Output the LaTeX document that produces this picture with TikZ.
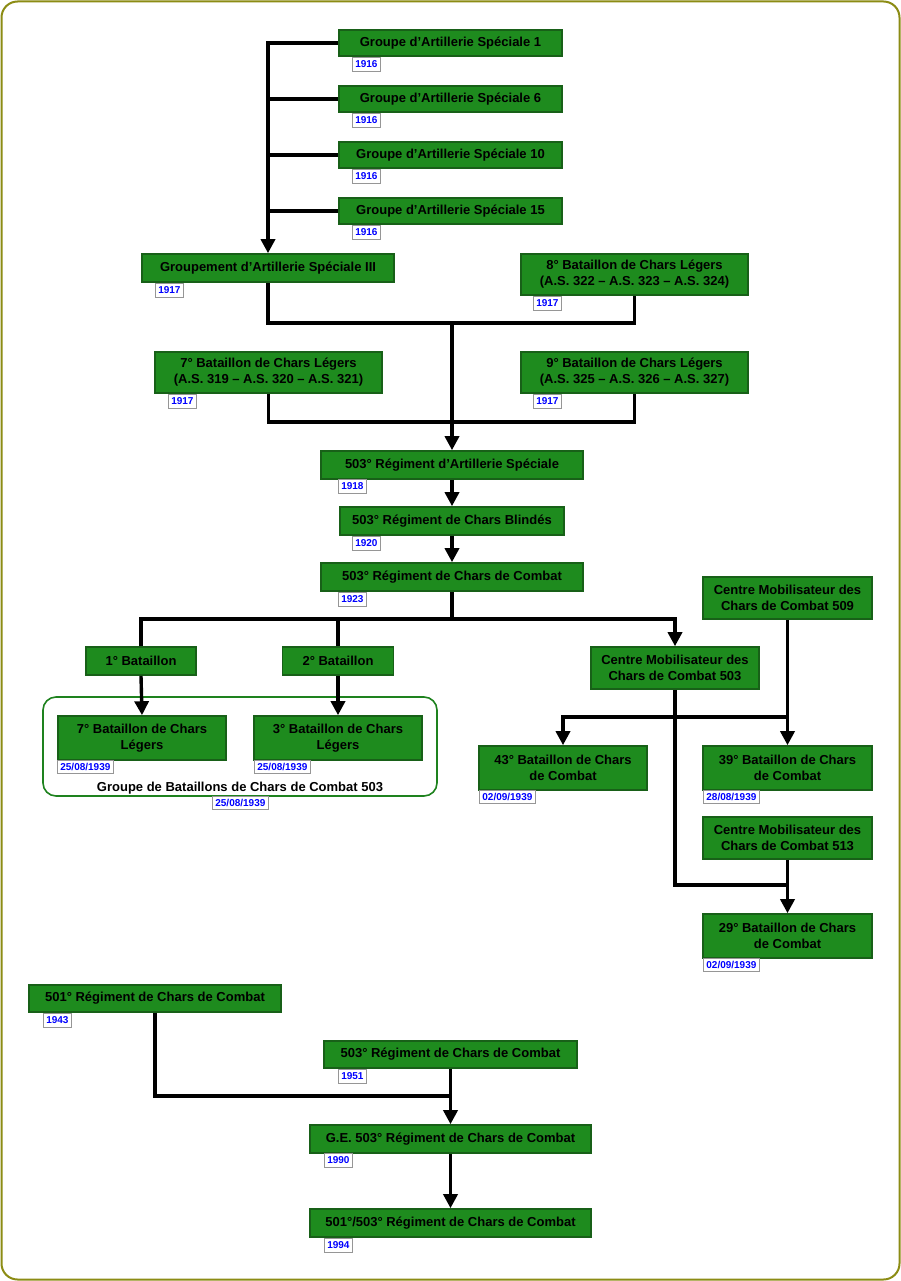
\documentclass[tikz,border=0pt]{standalone}
\usepackage{fontspec}
\setmainfont{Liberation Sans}
\usetikzlibrary{arrows.meta}
\definecolor{boxfill}{RGB}{30,139,30}
\definecolor{boxdraw}{RGB}{24,96,24}
\definecolor{dategray}{RGB}{150,150,150}
\definecolor{dateblue}{RGB}{0,0,255}
\definecolor{olive}{RGB}{140,140,20}
\definecolor{grpgreen}{RGB}{30,130,30}
\tikzset{
  box/.style={draw=boxdraw, fill=boxfill, line width=1.6pt, align=center, inner sep=0pt,
    font=\fontsize{13}{16}\selectfont\bfseries},
  sz/.style 2 args={minimum width=#1, minimum height=#2},
  datebox/.style={draw=dategray, fill=white, line width=0.8pt, inner sep=0pt, anchor=north west,
    text=dateblue, font=\fontsize{10}{12}\selectfont\bfseries, minimum height=14},
  dshort/.style={datebox, minimum width=28},
  dlong/.style={datebox, minimum width=56, minimum height=13},
  conn/.style={draw=black, line width=3.4pt},
  arr/.style={conn, -{Triangle[width=14pt,length=14pt]}},
  grpframe/.style={draw=grpgreen, line width=1.6pt, rounded corners=13pt, inner sep=0pt},
  grplabel/.style={font=\fontsize{13}{16}\selectfont\bfseries, inner sep=0pt},
}
\begin{document}
\begin{tikzpicture}[x=1pt,y=-1pt]
\useasboundingbox (0,0) rectangle (901,1281);
\draw[draw=olive, line width=2pt, rounded corners=16pt] (1.5,1.5) rectangle (899.5,1279.5);

% group container
\node[grpframe, sz={394}{99}] (gbcc) at (240,746.5) {};
\node[grplabel] (gbccl) at (240,788) {Groupe de Bataillons de Chars de Combat 503};
\node[dlong] (gbccd) at (212,796) {25/08/1939};

% nodes
\node[box, sz={223}{26}] (g1) at (450.5,43) {Groupe d’Artillerie Spéciale 1};
\node[dshort] (g1d) at (352,57) {1916};
\node[box, sz={223}{26}] (g6) at (450.5,99) {Groupe d’Artillerie Spéciale 6};
\node[dshort] (g6d) at (352,113) {1916};
\node[box, sz={223}{26}] (g10) at (450.5,155) {Groupe d’Artillerie Spéciale 10};
\node[dshort] (g10d) at (352,169) {1916};
\node[box, sz={223}{26}] (g15) at (450.5,211) {Groupe d’Artillerie Spéciale 15};
\node[dshort] (g15d) at (352,225) {1916};

\node[box, sz={252}{28}] (grp) at (268,268) {Groupement d’Artillerie Spéciale III};
\node[dshort] (grpd) at (155,283) {1917};
\node[box, sz={227}{41}] (b8) at (634.5,274.5) {8° Bataillon de Chars Légers\\(A.S. 322 – A.S. 323 – A.S. 324)};
\node[dshort] (b8d) at (533,296) {1917};
\node[box, sz={227}{41}] (b7) at (268.5,372.5) {7° Bataillon de Chars Légers\\(A.S. 319 – A.S. 320 – A.S. 321)};
\node[dshort] (b7d) at (168,394) {1917};
\node[box, sz={227}{41}] (b9) at (634.5,372.5) {9° Bataillon de Chars Légers\\(A.S. 325 – A.S. 326 – A.S. 327)};
\node[dshort] (b9d) at (533,394) {1917};

\node[box, sz={262}{28}] (ras) at (452,465) {503° Régiment d’Artillerie Spéciale};
\node[dshort] (rasd) at (338,479) {1918};
\node[box, sz={224}{28}] (rcb) at (452,521) {503° Régiment de Chars Blindés};
\node[dshort] (rcbd) at (352,536) {1920};
\node[box, sz={262}{28}] (rcc) at (452,577) {503° Régiment de Chars de Combat};
\node[dshort] (rccd) at (338,592) {1923};

\node[box, sz={110}{28}] (bat1) at (141,661) {1° Bataillon};
\node[box, sz={111}{28}] (bat2) at (338,661) {2° Bataillon};
\node[box, sz={168}{44}] (bcl7) at (142,738) {7° Bataillon de Chars\\Légers};
\node[dlong] (bcl7d) at (57,760) {25/08/1939};
\node[box, sz={168}{44}] (bcl3) at (338,738) {3° Bataillon de Chars\\Légers};
\node[dlong] (bcl3d) at (254,760) {25/08/1939};

\node[box, sz={169}{42}] (cm509) at (787.5,598) {Centre Mobilisateur des\\Chars de Combat 509};
\node[box, sz={168}{42}] (cm503) at (675,668) {Centre Mobilisateur des\\Chars de Combat 503};
\node[box, sz={168}{44}] (b43) at (563,768) {43° Bataillon de Chars\\de Combat};
\node[dlong] (b43d) at (479,790) {02/09/1939};
\node[box, sz={169}{44}] (b39) at (787.5,768) {39° Bataillon de Chars\\de Combat};
\node[dlong] (b39d) at (703,790) {28/08/1939};
\node[box, sz={169}{42}] (cm513) at (787.5,838) {Centre Mobilisateur des\\Chars de Combat 513};
\node[box, sz={169}{44}] (b29) at (787.5,936) {29° Bataillon de Chars\\de Combat};
\node[dlong] (b29d) at (703,958) {02/09/1939};

\node[box, sz={252}{27}] (r501) at (155,998.5) {501° Régiment de Chars de Combat};
\node[dshort] (r501d) at (43,1013) {1943};
\node[box, sz={253}{27}] (r503b) at (450.5,1054.5) {503° Régiment de Chars de Combat};
\node[dshort] (r503bd) at (338,1069) {1951};
\node[box, sz={281}{28}] (ge) at (450.5,1139) {G.E. 503° Régiment de Chars de Combat};
\node[dshort] (ged) at (324,1153) {1990};
\node[box, sz={281}{28}] (r501503) at (450.5,1223) {501°/503° Régiment de Chars de Combat};
\node[dshort] (r501503d) at (324,1238) {1994};

% junctions
\coordinate (j1) at (452,323);
\coordinate (j2) at (452,422);
\coordinate (j3) at (452,619);
\coordinate (j4) at (787.5,717);
\coordinate (j5) at (787.5,885);
\coordinate (j6) at (450.5,1096);

% connectors
\draw[arr] (g1.west) -| (grp.north);
\draw[conn] (g6.west) -- (g6.west -| grp.north);
\draw[conn] (g10.west) -- (g10.west -| grp.north);
\draw[conn] (g15.west) -- (g15.west -| grp.north);

\draw[conn] (grp.south) |- (j1) -| (b8.south);
\draw[conn] (b7.south) |- (j2) -| (b9.south);
\draw[arr] (j1) -- (j1 |- ras.north);

\draw[arr] (ras.south) -- (rcb.north);
\draw[arr] (rcb.south) -- (rcc.north);

\draw[conn] (rcc.south) -- (j3);
\draw[conn] (bat1.north) |- (j3);
\draw[conn] (bat2.north) -- (bat2.north |- j3);
\draw[arr] (j3) -| (cm503.north);
\draw[arr] (bat1.south) -- (bcl7.north);
\draw[arr] (bat2.south) -- (bcl3.north);

\draw[arr] (cm509.south) -- (b39.north);
\draw[arr] (j4) -| (b43.north);
\draw[conn] (cm503.south) |- (j5);
\draw[arr] (cm513.south) -- (b29.north);

\draw[conn] (r501.south) |- (j6);
\draw[arr] (r503b.south) -- (ge.north);
\draw[arr] (ge.south) -- (r501503.north);
\end{tikzpicture}
\end{document}
